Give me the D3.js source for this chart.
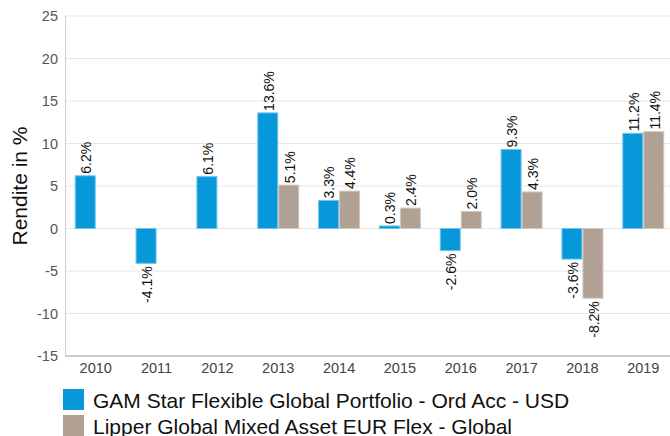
<!DOCTYPE html>
<html>
<head>
<meta charset="utf-8">
<script src="https://cdn.jsdelivr.net/npm/d3@7"></script>
<style>
  body { margin: 0; background: #fff; }
  svg { font-family: "Liberation Sans", Arial, sans-serif; display: block; }
</style>
</head>
<body>
<div id="chart"></div>
<script>
const years = ['2010', '2011', '2012', '2013', '2014', '2015', '2016', '2017', '2018', '2019'];
const seriesNames = ['GAM Star Flexible Global Portfolio - Ord Acc - USD', 'Lipper Global Mixed Asset EUR Flex - Global'];
const gamValues = [6.2, -4.1, 6.1, 13.6, 3.3, 0.3, -2.6, 9.3, -3.6, 11.2];
const lipperValues = [null, null, null, 5.1, 4.4, 2.4, 2.0, 4.3, -8.2, 11.4];
const yTicks = [-15, -10, -5, 0, 5, 10, 15, 20, 25];

const colors = ['#0798d9', '#b1a194'];
const strokes = ['#6cc6f0', '#d2c8bf'];

const width = 670;
const height = 436;
const margin = { top: 16, right: -4, bottom: 80, left: 65 };

const svg = d3.select('#chart').append('svg')
    .attr('width', width)
    .attr('height', height);

const x0 = d3.scaleBand()
    .domain(years)
    .range([margin.left, width - margin.right])
    .paddingInner(0.31)
    .paddingOuter(0.16);

const x1 = d3.scaleBand()
    .domain([0, 1])
    .range([0, x0.bandwidth()]);

const y = d3.scaleLinear()
    .domain([-15, 25])
    .range([height - margin.bottom, margin.top]);

// grid
svg.append('g')
  .selectAll('line')
  .data(yTicks)
  .join('line')
    .attr('x1', margin.left)
    .attr('x2', width)
    .attr('y1', d => y(d))
    .attr('y2', d => y(d))
    .attr('stroke', '#e6e6e6')
    .attr('stroke-width', 1);

// left axis line
svg.append('line')
    .attr('x1', margin.left + 0.5)
    .attr('x2', margin.left + 0.5)
    .attr('y1', y(25))
    .attr('y2', y(-15))
    .attr('stroke', '#d0d0d0');

// y tick labels
svg.append('g')
  .selectAll('text')
  .data(yTicks)
  .join('text')
    .attr('x', 58)
    .attr('y', d => y(d))
    .attr('dy', '0.35em')
    .attr('text-anchor', 'end')
    .attr('font-size', 14.5)
    .attr('fill', '#555')
    .text(d => d);

// y title
svg.append('text')
    .attr('transform', `translate(27,${(y(25) + y(-15)) / 2}) rotate(-90)`)
    .attr('text-anchor', 'middle')
    .attr('font-size', 21)
    .attr('fill', '#111')
    .text('Rendite in %');

// bars
const rows = years.map((yr, i) => ({ year: yr, values: [gamValues[i], lipperValues[i]] }));

const groups = svg.append('g')
  .selectAll('g')
  .data(rows)
  .join('g')
    .attr('transform', d => `translate(${x0(d.year)},0)`);

const bars = groups.selectAll('g')
  .data(d => d.values.map((v, s) => ({ v, s })).filter(d => d.v !== null))
  .join('g');

bars.append('rect')
    .attr('x', d => x1(d.s) + 0.5)
    .attr('width', x1.bandwidth() - 1)
    .attr('y', d => Math.min(y(d.v), y(0)))
    .attr('height', d => Math.abs(y(d.v) - y(0)))
    .attr('fill', d => colors[d.s])
    .attr('stroke', d => strokes[d.s])
    .attr('stroke-width', 1);

bars.append('text')
    .attr('transform', d => {
      const cx = x1(d.s) + x1.bandwidth() / 2 + 1;
      const cy = d.v >= 0 ? y(d.v) - 2 : y(d.v) + 3;
      return `translate(${cx},${cy}) rotate(-90)`;
    })
    .attr('text-anchor', d => d.v >= 0 ? 'start' : 'end')
    .attr('dy', '0.35em')
    .attr('font-size', 14)
    .attr('fill', '#111')
    .text(d => d.v.toFixed(1) + '%');

// bottom axis line
svg.append('line')
    .attr('x1', margin.left)
    .attr('x2', width)
    .attr('y1', y(-15))
    .attr('y2', y(-15))
    .attr('stroke', '#cccccc')
    .attr('stroke-width', 2);

// x labels
svg.append('g')
  .selectAll('text')
  .data(years)
  .join('text')
    .attr('x', d => x0(d) + x0.bandwidth() / 2)
    .attr('y', 373)
    .attr('text-anchor', 'middle')
    .attr('font-size', 14.5)
    .attr('fill', '#444')
    .text(d => d);

// legend
const legend = svg.append('g')
  .selectAll('g')
  .data(seriesNames)
  .join('g')
    .attr('transform', (d, i) => `translate(63,${389 + i * 26})`);

legend.append('rect')
    .attr('width', 21)
    .attr('height', 21)
    .attr('fill', (d, i) => colors[i]);

legend.append('text')
    .attr('x', 30)
    .attr('y', 18.5)
    .attr('font-size', 21)
    .attr('fill', '#111')
    .text(d => d);
</script>
</body>
</html>
